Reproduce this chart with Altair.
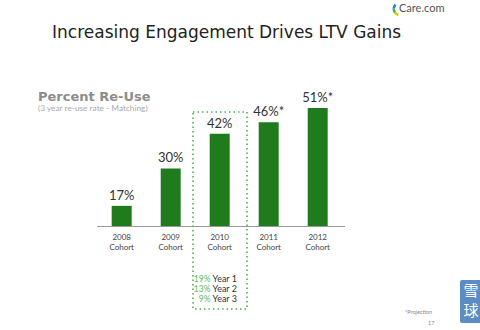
import altair as alt
import pandas as pd

cohorts = ["2008", "2009", "2010", "2011", "2012"]
reuse = [17, 30, 42, 46, 51]
bar_labels = ["17%", "30%", "42%", "46%*", "51%*"]
year_names = ["Year 1", "Year 2", "Year 3"]
year_pcts = ["19%", "13%", "9%"]

df = pd.DataFrame({"cohort": cohorts, "reuse": reuse, "label": bar_labels})
dy = pd.DataFrame({"name": year_names, "pct": year_pcts})
one = pd.DataFrame({"k": [0]})

FONT = "Lato"
TFONT = "DejaVu Sans"
GREEN = "#1f7b1c"

xs = alt.X("cohort:N", axis=None, sort=cohorts,
           scale=alt.Scale(range=[97.2, 342.2], paddingInner=0, paddingOuter=0))
ys = alt.Scale(domain=[10, 60], range=[226, 82], zero=False)
rows = alt.Y("name:N", axis=None, sort=year_names,
             scale=alt.Scale(type="point", range=[278.5, 298.5], padding=0))

base = alt.Chart(df)
deco = alt.Chart(one)

bars = base.mark_bar(color=GREEN, size=20).encode(
    x=xs, y=alt.Y("reuse:Q", scale=ys, axis=None), y2=alt.datum(10))

vals = base.mark_text(font=FONT, fontSize=13, color="#333", baseline="bottom", dy=-3).encode(
    x=xs, y=alt.Y("reuse:Q", scale=ys, axis=None), text="label:N")

xl1 = base.mark_text(font=FONT, fontSize=8, color="#444").encode(
    x=xs, y=alt.value(238), text="cohort:N")
xl2 = base.mark_text(font=FONT, fontSize=8, color="#444", text="Cohort").encode(
    x=xs, y=alt.value(248))

baseline = deco.mark_rule(color="#999", strokeWidth=1).encode(
    x=alt.value(97), x2=alt.value(345), y=alt.value(226.5))

box = deco.mark_rect(fill=None, stroke="#4caf50", strokeWidth=1.6,
                     strokeDash=[1.5, 3]).encode(
    x=alt.value(193), x2=alt.value(247), y=alt.value(112), y2=alt.value(309))

ypct = alt.Chart(dy).mark_text(font=FONT, fontSize=8.5, color="#5cb85c", align="right").encode(
    x=alt.value(210.5), y=rows, text="pct:N")
yname = alt.Chart(dy).mark_text(font=FONT, fontSize=9, color="#333", align="left").encode(
    x=alt.value(212.5), y=rows, text="name:N")

title = deco.mark_text(font=TFONT, fontSize=17, fontWeight="normal", color="#222",
                       align="left",
                       text="Increasing Engagement Drives LTV Gains").encode(
    x=alt.value(52), y=alt.value(33))
sect = deco.mark_text(font=TFONT, fontSize=13, fontWeight="bold", color="#8c8c8c",
                      align="left", text="Percent Re-Use").encode(
    x=alt.value(38), y=alt.value(97))
sub = deco.mark_text(font=FONT, fontSize=8.3, color="#aaaaaa", align="left",
                     text="(3 year re-use rate - Matching)").encode(
    x=alt.value(38), y=alt.value(109))

logo_arcs = []
for c, t1, t2 in [("#c8d400", 3.4, 4.1), ("#4caf50", 4.1, 4.8), ("#1e88c8", 4.8, 5.5)]:
    logo_arcs.append(deco.mark_arc(color=c, innerRadius=5, outerRadius=7.5,
                                   theta=t1, theta2=t2).encode(
        x=alt.value(400), y=alt.value(9)))
logo = deco.mark_text(font=FONT, fontSize=11, color="#555",
                      align="left", text="Care.com").encode(
    x=alt.value(399), y=alt.value(9))

foot = deco.mark_text(font=FONT, fontSize=5.5, color="#888", align="left",
                      text="*Projection").encode(x=alt.value(405), y=alt.value(312))
pg = deco.mark_text(font=FONT, fontSize=5.5, color="#888", align="left",
                    text="17").encode(x=alt.value(428), y=alt.value(323))

wm = deco.mark_rect(fill="#5b8dc4", cornerRadius=2).encode(
    x=alt.value(460), x2=alt.value(482), y=alt.value(280), y2=alt.value(323))
wm1 = deco.mark_text(font="Noto Sans CJK SC", fontSize=15, color="white",
                     baseline="middle", text="雪").encode(
    x=alt.value(471), y=alt.value(291))
wm2 = deco.mark_text(font="Noto Sans CJK SC", fontSize=15, color="white",
                     baseline="middle", text="球").encode(
    x=alt.value(471), y=alt.value(311))

chart = alt.layer(baseline, bars, vals, xl1, xl2, box, ypct, yname, title, sect, sub,
                  *logo_arcs, logo, foot, pg, wm, wm1, wm2).resolve_scale(
    y="independent"
).properties(
    width=480, height=330, autosize=alt.AutoSizeParams(type="none"), padding=0,
    background="white"
).configure_view(stroke=None)

chart.save("out.html", embed_options={"renderer": "svg", "actions": False})
